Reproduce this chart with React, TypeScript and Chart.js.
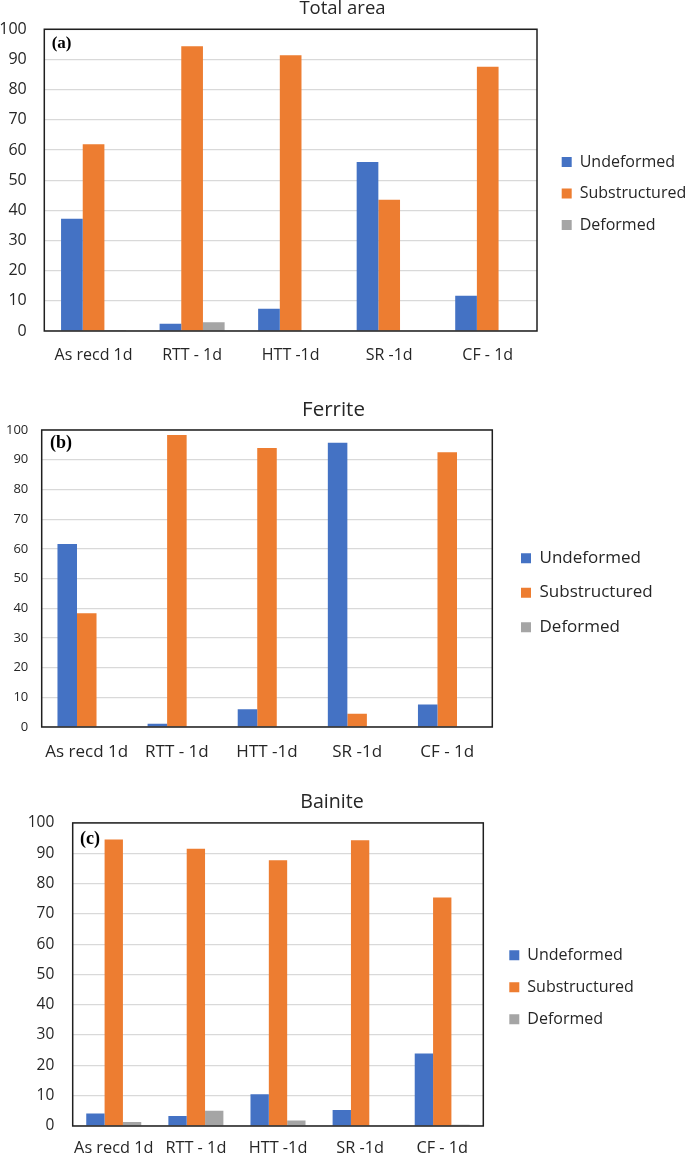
import React, { useEffect, useRef } from 'react';
import { Chart, registerables } from 'chart.js';

Chart.register(...registerables);

// ---------- data ----------
const categories = ['As recd 1d', 'RTT - 1d', 'HTT -1d', 'SR -1d', 'CF - 1d'];
const seriesNames = ['Undeformed', 'Substructured', 'Deformed'];

const totalUndeformed = [37.2, 2.4, 7.4, 56.0, 11.7];
const totalSubstructured = [61.9, 94.4, 91.4, 43.5, 87.6];
const totalDeformed = [0.3, 2.9, 0.2, 0, 0];

const ferriteUndeformed = [61.6, 1.1, 6.0, 95.7, 7.6];
const ferriteSubstructured = [38.3, 98.3, 93.9, 4.5, 92.5];
const ferriteDeformed = [0, 0, 0, 0, 0];

const bainiteUndeformed = [4.1, 3.3, 10.5, 5.3, 23.9];
const bainiteSubstructured = [94.5, 91.5, 87.7, 94.3, 75.4];
const bainiteDeformed = [1.3, 5.0, 1.8, 0, 0.4];

const yMin = 0;
const yMax = 100;
const yStep = 10;

// ---------- styles ----------
const COLORS = ['#4472C4', '#ED7D31', '#A5A5A5'];
const TEXT = '#262626';
const FONT = "'Open Sans', 'Noto Sans', sans-serif";
const SERIF = "'Liberation Serif', 'DejaVu Serif', serif";

type PanelCfg = {
  title: string;
  tag: string;
  values: number[][];
  top: number;
  width: number;
  height: number;
  titleSize: number;
  titleLH: number;
  titlePadTop: number;
  titlePadBottom: number;
  ySize: number;
  yPad: number;
  yWidth: number;
  xSize: number;
  xPad: number;
  xHeight: number;
  legendSize: number;
  legendPad: number;
  legendShift: number;
  gapWidth: number;
  legendWidth: number;
  tagSize: number;
  tagDx: number;
  tagDy: number;
  catPct: number;
};

const panels: PanelCfg[] = [
  {
    title: 'Total area', tag: '(a)',
    values: [totalUndeformed, totalSubstructured, totalDeformed],
    top: 0, width: 685, height: 367,
    titleSize: 18.5, titleLH: 0.9, titlePadTop: 0, titlePadBottom: 12.6,
    ySize: 16, yPad: 17.6, yWidth: 44.3,
    xSize: 16, xPad: 14.4, xHeight: 36,
    legendSize: 16, legendPad: 15.5, legendShift: 26.7,
    gapWidth: 9.2, legendWidth: 138.8,
    tagSize: 17, tagDx: 7.4, tagDy: 14.7, catPct: 0.66,
  },
  {
    title: 'Ferrite', tag: '(b)',
    values: [ferriteUndeformed, ferriteSubstructured, ferriteDeformed],
    top: 390, width: 667, height: 373,
    titleSize: 20.5, titleLH: 1.2, titlePadTop: 7.9, titlePadBottom: 7.5,
    ySize: 13, yPad: 13.4, yWidth: 41.7,
    xSize: 17, xPad: 14.8, xHeight: 36,
    legendSize: 17, legendPad: 17.5, legendShift: 28.3,
    gapWidth: 11.2, legendWidth: 163.5,
    tagSize: 18, tagDx: 8.3, tagDy: 13.3, catPct: 0.65,
  },
  {
    title: 'Bainite', tag: '(c)',
    values: [bainiteUndeformed, bainiteSubstructured, bainiteDeformed],
    top: 780, width: 664, height: 376,
    titleSize: 19.6, titleLH: 1.2, titlePadTop: 10.2, titlePadBottom: 9.2,
    ySize: 15.5, yPad: 18.4, yWidth: 72.7,
    xSize: 16.3, xPad: 12.2, xHeight: 30,
    legendSize: 16, legendPad: 16, legendShift: 25.6,
    gapWidth: 10, legendWidth: 170.7,
    tagSize: 18, tagDx: 7.3, tagDy: 16.6, catPct: 0.67,
  },
];

function ChartPanel({ cfg }: { cfg: PanelCfg }) {
  const ref = useRef<HTMLCanvasElement | null>(null);

  useEffect(() => {
    if (!ref.current) return;

    const framePlugin = {
      id: 'frameAndTag',
      afterDatasetsDraw(chart: any) {
        const { ctx, chartArea } = chart;
        ctx.save();
        ctx.strokeStyle = '#1f1f1f';
        ctx.lineWidth = 1.5;
        ctx.strokeRect(chartArea.left, chartArea.top, chartArea.right - chartArea.left, chartArea.bottom - chartArea.top);
        ctx.fillStyle = '#000';
        ctx.font = `bold ${cfg.tagSize}px ${SERIF}`;
        ctx.textAlign = 'left';
        ctx.textBaseline = 'middle';
        ctx.fillText(cfg.tag, chartArea.left + cfg.tagDx, chartArea.top + cfg.tagDy);
        ctx.restore();
      },
    };

    const legendWidthPlugin = {
      id: 'legendWidth',
      beforeLayout(chart: any) {
        const lg = chart.legend;
        if (lg && !lg.__fixedWidth) {
          const orig = lg.fit.bind(lg);
          lg.fit = function () {
            orig();
            this.width = cfg.legendWidth;
          };
          lg.__fixedWidth = true;
        }
      },
    };

    const chart = new Chart(ref.current, {
      type: 'bar',
      data: {
        labels: categories,
        datasets: seriesNames.map((name, i) => ({
          label: name,
          data: cfg.values[i],
          backgroundColor: COLORS[i],
          borderWidth: 0,
          categoryPercentage: cfg.catPct,
          barPercentage: 1,
          yAxisID: 'y',
        })),
      },
      options: {
        responsive: false,
        animation: false,
        events: [],
        layout: { padding: 0 },
        scales: {
          x: {
            grid: { display: false, drawTicks: false },
            border: { display: false },
            ticks: {
              color: TEXT,
              font: { family: FONT, size: cfg.xSize },
              padding: cfg.xPad,
              maxRotation: 0,
              autoSkip: false,
            },
            afterFit: (s: any) => { s.height = cfg.xHeight; },
          },
          y: {
            position: 'left',
            min: yMin,
            max: yMax,
            grid: { color: '#D9D9D9', lineWidth: 1.2, drawTicks: false },
            border: { display: false },
            ticks: {
              stepSize: yStep,
              color: TEXT,
              font: { family: FONT, size: cfg.ySize },
              padding: cfg.yPad,
            },
            afterFit: (s: any) => { s.width = cfg.yWidth; },
          },
          gap: {
            type: 'linear',
            position: 'right',
            display: true,
            grid: { display: false, drawTicks: false },
            border: { display: false },
            ticks: { display: false },
            afterFit: (s: any) => { s.width = cfg.gapWidth; },
          },
        },
        plugins: {
          tooltip: { enabled: false },
          title: {
            display: true,
            text: cfg.title,
            color: TEXT,
            font: { family: FONT, size: cfg.titleSize, weight: 'normal', lineHeight: cfg.titleLH },
            padding: { top: cfg.titlePadTop, bottom: cfg.titlePadBottom },
          },
          legend: {
            position: 'right',
            align: 'center',
            fullSize: false,
            title: {
              display: true,
              text: ' ',
              font: { size: 10, lineHeight: 1.2 },
              padding: { top: cfg.legendShift - 12, bottom: 0 },
            },
            labels: {
              boxWidth: 10,
              boxHeight: 10,
              padding: cfg.legendPad,
              color: TEXT,
              font: { family: FONT, size: cfg.legendSize },
            },
          },
        },
      } as any,
      plugins: [legendWidthPlugin, framePlugin],
    });

    return () => chart.destroy();
  }, [cfg]);

  return (
    <canvas
      ref={ref}
      width={cfg.width}
      height={cfg.height}
      style={{ position: 'absolute', left: 0, top: cfg.top, width: cfg.width, height: cfg.height }}
    />
  );
}

export default function App() {
  return (
    <div style={{ position: 'absolute', left: 0, top: 0, width: 685, height: 1156, background: '#fff' }}>
      {panels.map((p) => (
        <ChartPanel key={p.title} cfg={p} />
      ))}
    </div>
  );
}
